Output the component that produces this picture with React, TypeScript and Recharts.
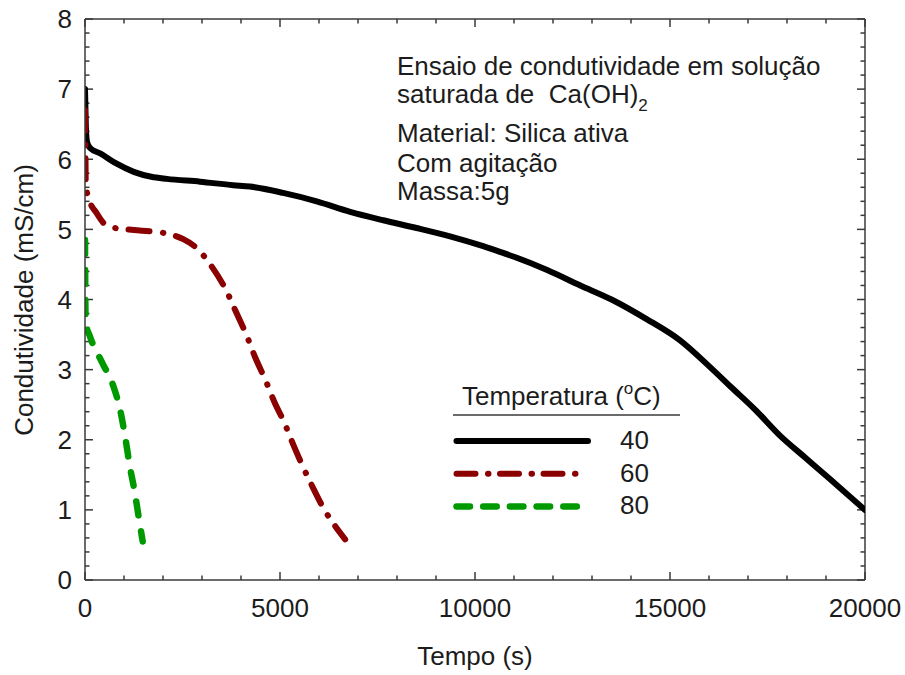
import React from 'react';
import { LineChart, Line, XAxis, YAxis, ReferenceLine, Customized } from 'recharts';

const FONT = '"Liberation Sans", Arial, Helvetica, sans-serif';
const INK = '#1c1c1c';
const AXIS = '#3a3a3a';

// 40 °C
const time40 = [0, 20, 50, 130, 400, 800, 1250, 1700, 2100, 2950, 3800, 4230, 5080, 5940, 6800, 7650, 8500, 9360, 10210, 10640, 11000, 11850, 12700, 13500, 14400, 15250, 16000, 16550, 17200, 17800, 18500, 19100, 20000];
const cond40 = [7.0, 6.5, 6.25, 6.16, 6.08, 5.94, 5.82, 5.75, 5.72, 5.68, 5.63, 5.61, 5.52, 5.4, 5.25, 5.13, 5.02, 4.9, 4.76, 4.68, 4.61, 4.42, 4.2, 4.0, 3.72, 3.42, 3.05, 2.76, 2.42, 2.07, 1.73, 1.44, 1.0];
// 60 °C
const time60 = [0, 10, 20, 80, 300, 600, 1250, 1700, 2250, 2520, 2850, 3250, 3630, 3850, 4150, 4360, 4620, 4870, 5090, 5340, 5560, 5860, 6130, 6400, 6670];
const cond60 = [6.7, 6.2, 5.63, 5.47, 5.23, 5.04, 4.99, 4.97, 4.92, 4.86, 4.74, 4.47, 4.12, 3.85, 3.48, 3.18, 2.86, 2.52, 2.27, 1.93, 1.65, 1.3, 1.01, 0.78, 0.58];
// 80 °C
const time80 = [0, 5, 10, 20, 130, 430, 730, 900, 1030, 1150, 1280, 1370, 1480];
const cond80 = [4.85, 4.3, 3.9, 3.67, 3.47, 3.11, 2.76, 2.43, 2.04, 1.62, 1.24, 0.92, 0.55];

const seriesNames = ['40', '60', '80'];

const xTicks = [0, 1000, 2000, 3000, 4000, 5000, 6000, 7000, 8000, 9000, 10000, 11000, 12000, 13000, 14000, 15000, 16000, 17000, 18000, 19000, 20000];
const xLabels = [0, 5000, 10000, 15000, 20000];
const yTicks = [0, 0.2, 0.4, 0.6, 0.8, 1, 1.2, 1.4, 1.6, 1.8, 2, 2.2, 2.4, 2.6, 2.8, 3, 3.2, 3.4, 3.6, 3.8, 4, 4.2, 4.4, 4.6, 4.8, 5, 5.2, 5.4, 5.6, 5.8, 6, 6.2, 6.4, 6.6, 6.8, 7, 7.2, 7.4, 7.6, 7.8, 8];
const yLabels = [0, 1, 2, 3, 4, 5, 6, 7, 8];

const X_MAX = 20000;
const Y_MAX = 8;

const toRows = (ts: number[], vs: number[]) => ts.map((t, i) => ({ t, v: vs[i] }));
const data40 = toRows(time40, cond40);
const data60 = toRows(time60, cond60);
const data80 = toRows(time80, cond80);

const styles = [
  { color: '#000000', width: 6, dash: undefined as string | undefined, legendDash: undefined as string | undefined, legendEnd: 588 },
  { color: '#8b0000', width: 6, dash: '21 13.5 0.5 13', legendDash: '19 12.5 0.5 11.5', legendEnd: 576 },
  { color: '#009a00', width: 6.5, dash: '14 16', legendDash: '13.5 13.2', legendEnd: 577 },
];

// inward tick lengths, converted from pixels into axis units (plot is 780 x 561 px)
const X_PER_PX = X_MAX / 780;
const Y_PER_PX = Y_MAX / 561;
const MAJOR_PX = 8;
const MINOR_PX = 4.5;

const LeftTick = (p: any) => {
  const { x, y, payload } = p;
  if (!yLabels.includes(payload.value)) return <g />;
  return (
    <text x={x - 13} y={y} dy="0.36em" textAnchor="end" fontSize={26} fontFamily={FONT} fill={INK}>
      {payload.value}
    </text>
  );
};

const BottomTick = (p: any) => {
  const { x, y, payload } = p;
  if (!xLabels.includes(payload.value)) return <g />;
  return (
    <text x={x} y={y + 37} textAnchor="middle" fontSize={26} fontFamily={FONT} fill={INK}>
      {payload.value}
    </text>
  );
};

const Decorations = () => (
  <g fontFamily={FONT} fill={INK} fontSize={26}>
    <text x={475} y={665} textAnchor="middle">Tempo (s)</text>
    <text x={33} y={300} textAnchor="middle" transform="rotate(-90 33 300)">Condutividade (mS/cm)</text>
    <text x={397} y={75}>Ensaio de condutividade em solução</text>
    <text x={397} y={103} style={{ whiteSpace: 'pre' }}>
      saturada de  Ca(OH)<tspan fontSize={17} dy={8}>2</tspan>
    </text>
    <text x={397} y={142}>Material: Silica ativa</text>
    <text x={397} y={172}>Com agitação</text>
    <text x={397} y={200}>Massa:5g</text>
    <text x={462} y={405}>
      Temperatura (<tspan fontSize={17} dy={-11}>o</tspan>
      <tspan dy={11}>C)</tspan>
    </text>
    <line x1={453} x2={680} y1={415} y2={415} stroke={AXIS} strokeWidth={1.5} />
    {seriesNames.map((name, i) => (
      <g key={name}>
        <line
          x1={456.5}
          x2={styles[i].legendEnd}
          y1={441 + i * 32.7}
          y2={441 + i * 32.7}
          stroke={styles[i].color}
          strokeWidth={styles[i].width}
          strokeDasharray={styles[i].legendDash}
          strokeLinecap="round"
        />
        <text x={620} y={449 + i * 32.7}>{name}</text>
      </g>
    ))}
  </g>
);

export default function App() {
  const datasets = [data40, data60, data80];
  const tickProps = { xAxisId: 'b', yAxisId: 'l', stroke: AXIS, strokeWidth: 1.5, ifOverflow: 'visible' as const };
  return (
    <div style={{ position: 'absolute', left: 0, top: 0, background: '#fff' }}>
      <LineChart width={905} height={675} margin={{ top: 19, right: 40, bottom: 0, left: 0 }}>
        <XAxis
          xAxisId="b"
          dataKey="t"
          type="number"
          domain={[0, X_MAX]}
          ticks={xTicks}
          interval={0}
          height={95}
          tickSize={0}
          tickMargin={0}
          tickLine={false}
          tick={BottomTick}
          axisLine={{ stroke: AXIS, strokeWidth: 1.5 }}
          allowDataOverflow
        />
        <YAxis
          yAxisId="l"
          type="number"
          domain={[0, Y_MAX]}
          ticks={yTicks}
          interval={0}
          width={85}
          tickSize={0}
          tickMargin={0}
          tickLine={false}
          tick={LeftTick}
          axisLine={{ stroke: AXIS, strokeWidth: 1.5 }}
          allowDataOverflow
        />
        <ReferenceLine xAxisId="b" yAxisId="l" y={Y_MAX} stroke={AXIS} strokeWidth={1.5} ifOverflow="visible" />
        <ReferenceLine xAxisId="b" yAxisId="l" x={X_MAX} stroke={AXIS} strokeWidth={1.5} ifOverflow="visible" />
        {yTicks.map((v) => {
          const len = (yLabels.includes(v) ? MAJOR_PX : MINOR_PX) * X_PER_PX;
          return (
            <React.Fragment key={'y' + v}>
              <ReferenceLine {...tickProps} segment={[{ x: 0, y: v }, { x: len, y: v }]} />
              <ReferenceLine {...tickProps} segment={[{ x: X_MAX - len, y: v }, { x: X_MAX, y: v }]} />
            </React.Fragment>
          );
        })}
        {xTicks.map((v) => {
          const len = (xLabels.includes(v) ? MAJOR_PX : MINOR_PX) * Y_PER_PX;
          return (
            <React.Fragment key={'x' + v}>
              <ReferenceLine {...tickProps} segment={[{ x: v, y: 0 }, { x: v, y: len }]} />
              <ReferenceLine {...tickProps} segment={[{ x: v, y: Y_MAX - len }, { x: v, y: Y_MAX }]} />
            </React.Fragment>
          );
        })}
        {datasets.map((d, i) => (
          <Line
            key={seriesNames[i]}
            xAxisId="b"
            yAxisId="l"
            data={d}
            dataKey="v"
            name={seriesNames[i]}
            type="monotone"
            stroke={styles[i].color}
            strokeWidth={styles[i].width}
            strokeDasharray={styles[i].dash}
            strokeLinecap="round"
            strokeLinejoin="round"
            dot={false}
            activeDot={false}
            isAnimationActive={false}
          />
        ))}
        <Customized component={Decorations} />
      </LineChart>
    </div>
  );
}
